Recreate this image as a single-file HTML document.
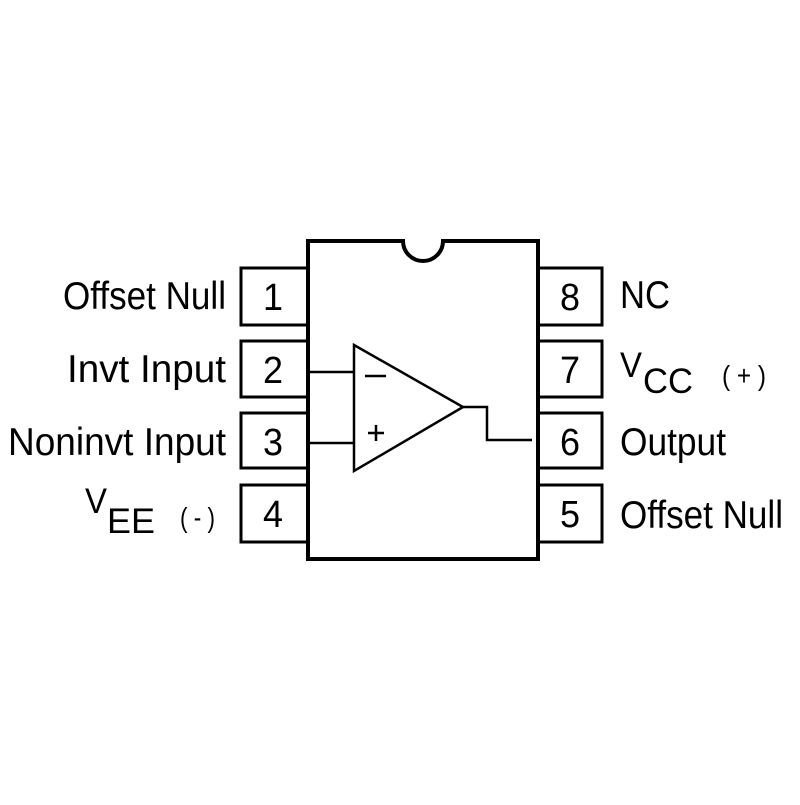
<!DOCTYPE html>
<html><head><style>body{margin:0;background:#fff}</style></head><body>
<svg width="800" height="800" viewBox="0 0 800 800" xmlns="http://www.w3.org/2000/svg" font-family="Liberation Sans, sans-serif">
<rect width="800" height="800" fill="#fff"/>
<g fill="none" stroke="#000">
<path d="M308 241 H403 A20 20 0 0 0 443 241 H538 V559 H308 Z" stroke-width="4"/>
<g stroke-width="3">
<path d="M308 268 H241 V325 H308"/>
<path d="M308 341 H241 V397 H308"/>
<path d="M308 413 H241 V468 H308"/>
<path d="M308 485 H241 V542 H308"/>
<path d="M538 268 H602 V325 H538"/>
<path d="M538 341 H602 V397 H538"/>
<path d="M538 413 H602 V468 H538"/>
<path d="M538 485 H602 V542 H538"/>
</g>
<g stroke-width="2.5">
<path d="M354 345 L463 407 L354 471 Z"/>
<path d="M308 372 H354 M308 443 H354"/>
<path d="M463 407 H487 V440 H532"/>
<path d="M365 376 H386 M368 433 H384 M376 425 V441"/>
</g>
</g>
<g font-size="38" fill="#000" text-anchor="middle">
<text x="273" y="310" textLength="20" lengthAdjust="spacingAndGlyphs">1</text><text x="273" y="383" textLength="20" lengthAdjust="spacingAndGlyphs">2</text><text x="273" y="455" textLength="20" lengthAdjust="spacingAndGlyphs">3</text><text x="273" y="527" textLength="20" lengthAdjust="spacingAndGlyphs">4</text>
<text x="570" y="310" textLength="20" lengthAdjust="spacingAndGlyphs">8</text><text x="570" y="383" textLength="20" lengthAdjust="spacingAndGlyphs">7</text><text x="570" y="455" textLength="20" lengthAdjust="spacingAndGlyphs">6</text><text x="570" y="527" textLength="20" lengthAdjust="spacingAndGlyphs">5</text>
</g>
<g font-size="39" fill="#000">
<text x="63" y="309" textLength="163" lengthAdjust="spacingAndGlyphs">Offset Null</text>
<text x="67" y="382" textLength="159" lengthAdjust="spacingAndGlyphs">Invt  Input</text>
<text x="8" y="455" textLength="218" lengthAdjust="spacingAndGlyphs">Noninvt  Input</text>
<text x="85" y="513" font-size="35" textLength="22" lengthAdjust="spacingAndGlyphs">V</text><text x="107" y="533" font-size="35" textLength="48" lengthAdjust="spacingAndGlyphs">EE</text>
<text x="180" y="527" font-size="28" textLength="35" lengthAdjust="spacingAndGlyphs">( - )</text>
<text x="620" y="308" textLength="50" lengthAdjust="spacingAndGlyphs">NC</text>
<text x="620" y="377" font-size="35" textLength="22" lengthAdjust="spacingAndGlyphs">V</text><text x="643" y="393" font-size="35" textLength="50" lengthAdjust="spacingAndGlyphs">CC</text>
<text x="722" y="385" font-size="28" textLength="44" lengthAdjust="spacingAndGlyphs">( + )</text>
<text x="620" y="455" textLength="106" lengthAdjust="spacingAndGlyphs">Output</text>
<text x="620" y="528" textLength="163" lengthAdjust="spacingAndGlyphs">Offset Null</text>
</g>
</svg>
</body></html>
